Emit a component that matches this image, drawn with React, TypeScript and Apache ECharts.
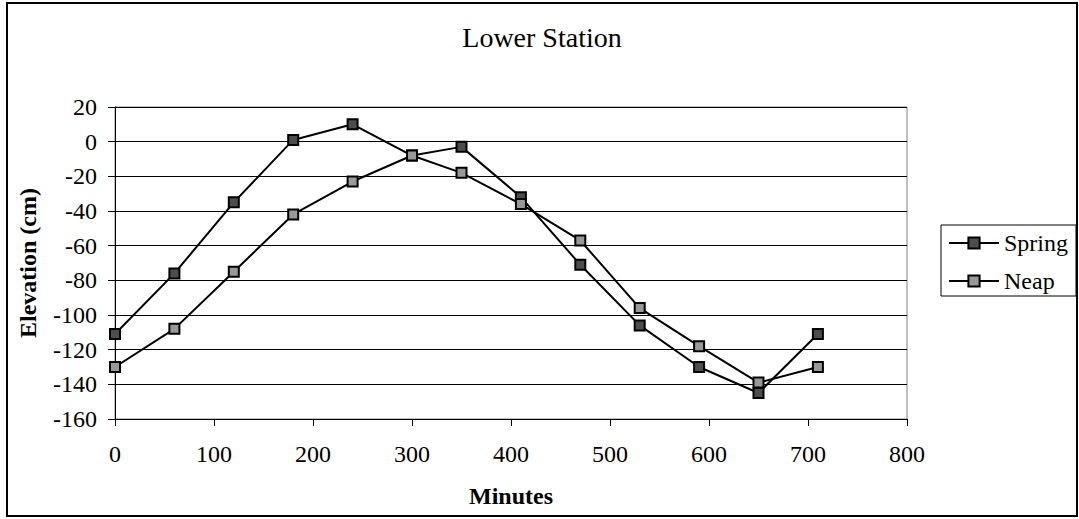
import React, { useEffect, useRef } from "react";
import * as echarts from "echarts";

const minutes = [0, 60, 120, 180, 240, 300, 350, 410, 470, 530, 590, 650, 710];
const spring = [-111, -76, -35, 1, 10, -8, -3, -32, -71, -106, -130, -145, -111];
const neap = [-130, -108, -75, -42, -23, -8, -18, -36, -57, -96, -118, -139, -130];
const xTicks = { min: 0, max: 800, interval: 100 };
const yTicks = { min: -160, max: 20, interval: 20 };

const FONT = "'Liberation Serif', 'Times New Roman', serif";

export default function App() {
  const ref = useRef<HTMLDivElement>(null);
  useEffect(() => {
    document.body.style.margin = "0";
    const chart = echarts.init(ref.current!, null, { renderer: "svg" });
    const mk = (name: string, vals: number[], fill: string) => ({
      name,
      type: "line",
      data: minutes.map((m, i) => [m, vals[i]]),
      symbol: "rect",
      symbolSize: 10,
      showAllSymbol: true,
      lineStyle: { color: "#000", width: 2 },
      itemStyle: { color: fill, borderColor: "#000", borderWidth: 2 },
      emphasis: { disabled: true },
    });
    chart.setOption({
      animation: false,
      backgroundColor: "#fff",
      textStyle: { fontFamily: FONT, color: "#000" },
      title: {
        text: "Lower Station",
        left: 542,
        textAlign: "center",
        top: 23,
        padding: 0,
        textStyle: { fontFamily: FONT, fontSize: 28, fontWeight: "normal", color: "#000" },
      },
      legend: {
        orient: "vertical",
        left: 941,
        top: 225,
        padding: [6, 8, 3, 7],
        itemGap: 14,
        itemWidth: 50,
        itemHeight: 14,
        borderColor: "#000",
        borderWidth: 1,
        textStyle: { fontFamily: FONT, fontSize: 24, color: "#000" },
        data: ["Spring", "Neap"],
      },
      grid: {
        left: 115,
        top: 107,
        right: 172,
        bottom: 100,
        show: true,
        borderColor: "#808080",
        borderWidth: 1,
        containLabel: false,
      },
      xAxis: {
        type: "value",
        ...xTicks,
        name: "Minutes",
        nameLocation: "middle",
        nameGap: 65,
        nameTextStyle: { fontFamily: FONT, fontSize: 24, fontWeight: "bold", color: "#000" },
        axisLine: { show: true, onZero: false, lineStyle: { color: "#000", width: 1 } },
        axisTick: { show: true, inside: false, length: 7, lineStyle: { color: "#000" } },
        axisLabel: { margin: 23, fontFamily: FONT, fontSize: 24, color: "#000" },
        splitLine: { show: false },
      },
      yAxis: {
        type: "value",
        ...yTicks,
        name: "Elevation (cm)",
        nameLocation: "middle",
        nameRotate: 90,
        nameGap: 75,
        nameTextStyle: { fontFamily: FONT, fontSize: 24, fontWeight: "bold", color: "#000" },
        axisLine: { show: true, onZero: false, lineStyle: { color: "#000", width: 1 } },
        axisTick: { show: true, inside: false, length: 7, lineStyle: { color: "#000" } },
        axisLabel: { margin: 18, fontFamily: FONT, fontSize: 24, color: "#000" },
        splitLine: { show: true, lineStyle: { color: "#000", width: 1 } },
      },
      graphic: [
        {
          type: "rect",
          shape: { x: 7, y: 3, width: 1070, height: 513 },
          style: { fill: "none", stroke: "#000", lineWidth: 2 },
          silent: true,
          z: 100,
        },
      ],
      series: [mk("Spring", spring, "#4d4d4d"), mk("Neap", neap, "#999999")],
    });
    return () => chart.dispose();
  }, []);
  return <div ref={ref} style={{ width: 1079, height: 519 }} />;
}
